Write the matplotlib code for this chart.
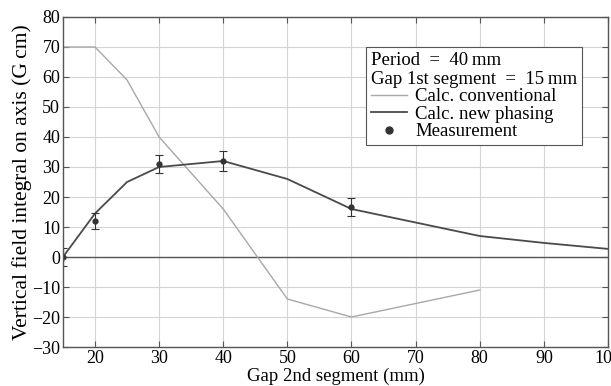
import numpy as np
import matplotlib.pyplot as plt
from matplotlib.lines import Line2D

plt.rcParams['font.family'] = ['Liberation Serif', 'DejaVu Serif']

# calculated curves
gap_conv = [15, 20, 25, 30, 40, 50, 60, 70, 80]
field_conv = [70, 70, 59, 40, 16, -14, -20, -15.5, -11]

gap_new = [15, 20, 25, 30, 40, 50, 60, 70, 80, 90, 100]
field_new = [0, 14.5, 25, 30, 32, 26, 16, 11.5, 7, 4.7, 2.7]

# measurements
gap_meas = [15, 20, 30, 40, 60]
field_meas = [0, 12, 31, 32, 16.7]
err_meas = [3, 2.8, 3, 3.2, 3]

fig = plt.figure(figsize=(6.11, 3.86), dpi=100)
ax = fig.add_axes([0.103, 0.101, 0.892, 0.855])

ax.grid(True, color='#d4d4d4', linewidth=0.8)
ax.axhline(0, color='#555555', linewidth=1.0)

ax.plot(gap_conv, field_conv, color='#a8a8a8', linewidth=1.0)
ax.plot(gap_new, field_new, color='#4a4a4a', linewidth=1.3)
ax.errorbar(gap_meas, field_meas, yerr=err_meas, fmt='o', color='#333333',
            markersize=3.5, elinewidth=0.8, capsize=3, capthick=0.8)

ax.set_xlim(15, 100)
ax.set_ylim(-30, 80)
ax.set_xticks(np.arange(20, 101, 10))
ax.set_yticks(np.arange(-30, 81, 10))
ax.set_yticklabels([str(v).replace('-', '\u2212') for v in range(-30, 81, 10)])
ax.tick_params(direction='in', length=4, width=0.8, color='#555555',
               labelsize=13, top=True, right=True, pad=2)
for s in ax.spines.values():
    s.set_color('#555555')
    s.set_linewidth(1.0)

ax.set_xlabel('Gap 2nd segment (mm)', fontsize=13.5, labelpad=1)
ax.set_ylabel('Vertical field integral on axis (G\u2009cm)', fontsize=15.5, labelpad=0)

handles = [
    Line2D([], [], color='#a8a8a8', linewidth=1.0),
    Line2D([], [], color='#4a4a4a', linewidth=1.3),
    Line2D([], [], color='#333333', marker='o', markersize=5, linestyle='none'),
]
labels = ['Calc. conventional', 'Calc. new phasing', 'Measurement']
leg = ax.legend(handles, labels,
                title='Period\u2002=\u200240\u2009mm\nGap 1st segment\u2002=\u200215\u2009mm',
                alignment='left', loc='upper right', bbox_to_anchor=(0.952, 0.909),
                fontsize=13.5, title_fontsize=13.5, frameon=True, fancybox=False,
                edgecolor='#555555', framealpha=1, borderpad=0.25,
                labelspacing=0.02, handlelength=1.9, handletextpad=0.45,
                borderaxespad=0)
leg.get_frame().set_linewidth(0.8)
leg._legend_box.sep = 0

fig.savefig('out.png', dpi=100)
